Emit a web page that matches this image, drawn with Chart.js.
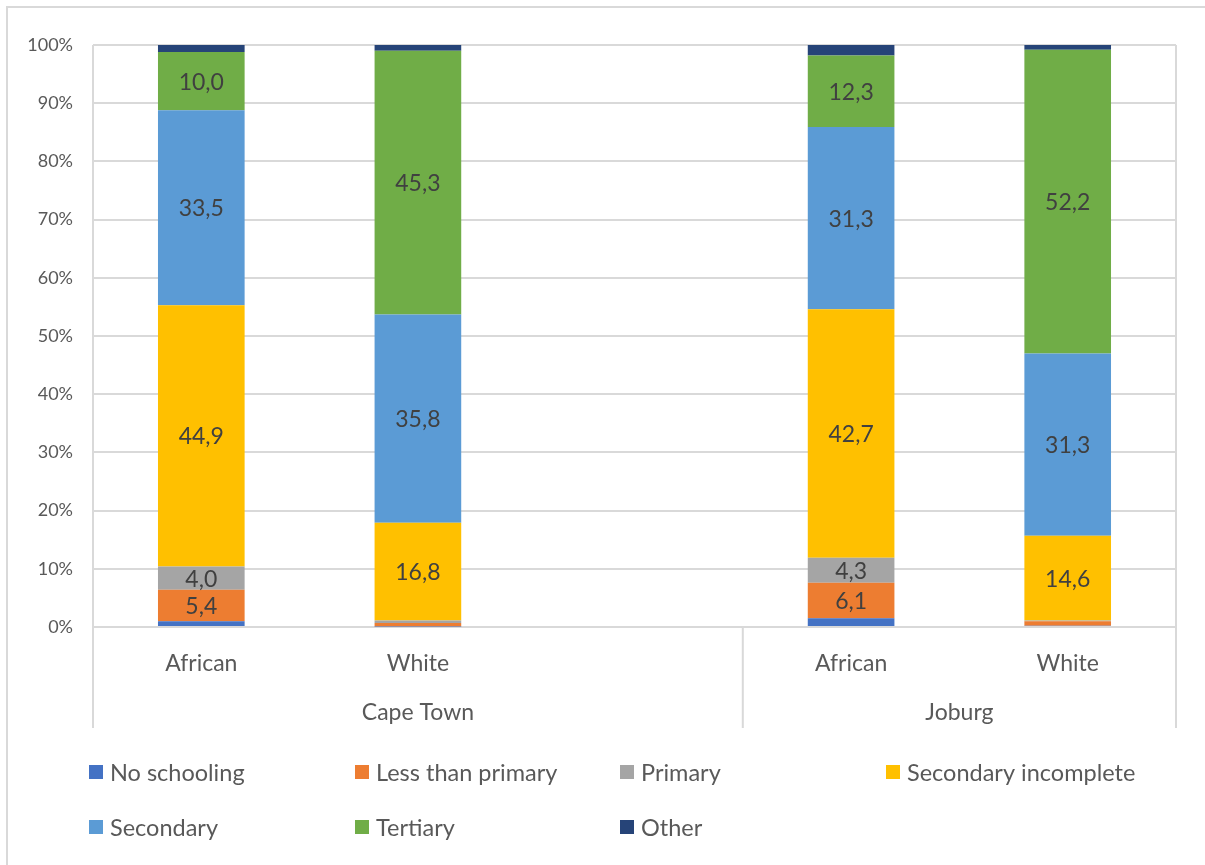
<!DOCTYPE html>
<html>
<head>
<meta charset="utf-8">
<script src="https://cdn.jsdelivr.net/npm/chart.js@4.4.1/dist/chart.umd.min.js"></script>
<style>
    html, body { margin: 0; padding: 0; background: #fff; }
    #wrap { width: 1205px; height: 865px; position: relative; }
</style>
</head>
<body>
<div id="wrap"><canvas id="chart"></canvas></div>
<script>
// categories (third slot is the empty Excel row inside the Cape Town group)
const categories = ['African', 'White', '', 'African', 'White'];
const groups = ['Cape Town', 'Joburg'];
const groupSpans = [[0, 2], [3, 4]];
const yTicks = [0, 10, 20, 30, 40, 50, 60, 70, 80, 90, 100];

// series values, % of group
const noSchooling         = [1.0, 0.1, null, 1.5, 0.2];
const lessThanPrimary     = [5.4, 0.6, null, 6.1, 0.8];
const primary             = [4.0, 0.4, null, 4.3, 0.1];
const secondaryIncomplete = [44.9, 16.8, null, 42.7, 14.6];
const secondary           = [33.5, 35.8, null, 31.3, 31.3];
const tertiary            = [10.0, 45.3, null, 12.3, 52.2];
const other               = [1.2, 1.0, null, 1.8, 0.8];

const FONT = "Lato, 'Open Sans', sans-serif";
const GRID = '#D9D9D9';
const TEXT = '#595959';

const series = [
    { label: 'No schooling', data: noSchooling, color: '#4472C4' },
    { label: 'Less than primary', data: lessThanPrimary, color: '#ED7D31' },
    { label: 'Primary', data: primary, color: '#A5A5A5' },
    { label: 'Secondary incomplete', data: secondaryIncomplete, color: '#FFC000' },
    { label: 'Secondary', data: secondary, color: '#5B9BD5' },
    { label: 'Tertiary', data: tertiary, color: '#70AD47' },
    { label: 'Other', data: other, color: '#264478' }
];

// value labels inside segments
const valueLabels = {
    id: 'valueLabels',
    afterDatasetsDraw(chart) {
        const ctx = chart.ctx;
        ctx.save();
        ctx.font = `23px ${FONT}`;
        ctx.fillStyle = '#404040';
        ctx.textAlign = 'center';
        ctx.textBaseline = 'middle';
        chart.data.datasets.forEach((ds, i) => {
            const meta = chart.getDatasetMeta(i);
            meta.data.forEach((bar, j) => {
                const v = ds.data[j];
                if (v == null || v < 3) return;
                ctx.fillText(v.toFixed(1).replace('.', ','), bar.x, (bar.y + bar.base) / 2 + 1);
            });
        });
        ctx.restore();
    }
};

// frame, group separators, group labels, legend
const decorations = {
    id: 'decorations',
    afterDraw(chart) {
        const ctx = chart.ctx;
        const area = chart.chartArea;
        const x = chart.scales.x;
        const step = (area.right - area.left) / categories.length;
        const axisBottom = x.bottom;

        ctx.save();
        // outer chart border
        ctx.strokeStyle = GRID;
        ctx.lineWidth = 2;
        ctx.beginPath();
        ctx.moveTo(7, 866);
        ctx.lineTo(7, 7);
        ctx.lineTo(1210, 7);
        ctx.stroke();

        // plot sides and group separators
        ctx.beginPath();
        ctx.moveTo(area.left, area.top);
        ctx.lineTo(area.left, axisBottom);
        ctx.moveTo(area.right, area.top);
        ctx.lineTo(area.right, axisBottom);
        groupSpans.slice(1).forEach(span => {
            const sx = area.left + span[0] * step;
            ctx.moveTo(sx, area.bottom);
            ctx.lineTo(sx, axisBottom);
        });
        ctx.stroke();

        // group labels
        ctx.font = `23px ${FONT}`;
        ctx.fillStyle = TEXT;
        ctx.textAlign = 'center';
        ctx.textBaseline = 'middle';
        groups.forEach((g, i) => {
            const a = area.left + groupSpans[i][0] * step;
            const b = area.left + (groupSpans[i][1] + 1) * step;
            ctx.fillText(g, (a + b) / 2, 713);
        });

        // legend in a fixed grid
        const cols = [89, 355, 620, 886];
        const rows = [773, 828];
        ctx.font = `23.5px ${FONT}`;
        ctx.textAlign = 'left';
        chart.data.datasets.forEach((ds, i) => {
            const cx = cols[i % 4];
            const cy = rows[Math.floor(i / 4)];
            ctx.fillStyle = ds.backgroundColor;
            ctx.fillRect(cx, cy - 8, 14, 14);
            ctx.fillStyle = TEXT;
            ctx.fillText(ds.label, cx + 21, cy);
        });
        ctx.restore();
    }
};

new Chart(document.getElementById('chart'), {
    type: 'bar',
    data: {
        labels: categories,
        datasets: series.map(s => ({
            label: s.label,
            data: s.data,
            backgroundColor: s.color,
            borderWidth: 0,
            barPercentage: 0.4,
            categoryPercentage: 1
        }))
    },
    options: {
        responsive: true,
        maintainAspectRatio: false,
        animation: false,
        layout: { padding: { top: 45, right: 29, bottom: 137, left: 0 } },
        plugins: {
            legend: { display: false },
            tooltip: { enabled: false }
        },
        scales: {
            x: {
                stacked: true,
                grid: { display: false },
                border: { display: false },
                ticks: {
                    font: { family: FONT, size: 23 },
                    color: TEXT,
                    padding: 15,
                    maxRotation: 0,
                    autoSkip: false
                },
                afterFit: scale => { scale.height = 101; }
            },
            y: {
                stacked: true,
                min: 0,
                max: 100,
                afterBuildTicks: scale => { scale.ticks = yTicks.map(v => ({ value: v })); },
                grid: { color: GRID, lineWidth: 2, drawTicks: false },
                border: { display: false },
                ticks: {
                    font: { family: FONT, size: 18 },
                    color: TEXT,
                    padding: 20,
                    callback: v => v + '%'
                },
                afterFit: scale => { scale.width = 93; }
            }
        }
    },
    plugins: [valueLabels, decorations]
});
</script>
</body>
</html>
